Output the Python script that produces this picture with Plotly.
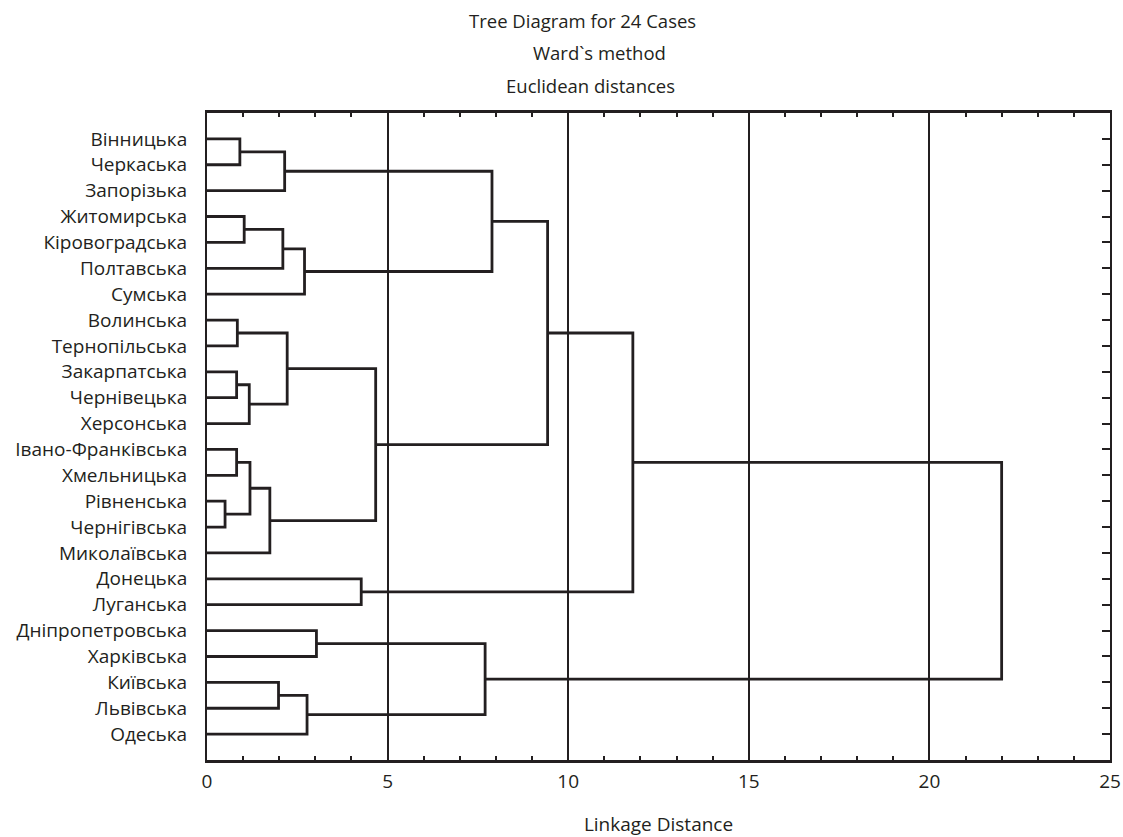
import plotly.graph_objects as go

# Leaf labels in dendrogram order (top to bottom)
leaf_labels = [
    "Вінницька", "Черкаська", "Запорізька", "Житомирська", "Кіровоградська",
    "Полтавська", "Сумська", "Волинська", "Тернопільська", "Закарпатська",
    "Чернівецька", "Херсонська", "Івано-Франківська", "Хмельницька",
    "Рівненська", "Чернігівська", "Миколаївська", "Донецька", "Луганська",
    "Дніпропетровська", "Харківська", "Київська", "Львівська", "Одеська",
]

# Merges: ids 0..23 are leaves, new cluster ids start at 24 in order listed
merge_left = [14, 9, 12, 7, 0, 3, 25, 26, 31, 21, 29, 28, 27, 34, 33, 19, 17, 36, 39, 35, 43, 44, 45]
merge_right = [15, 10, 13, 8, 1, 4, 11, 24, 16, 22, 5, 2, 30, 6, 23, 20, 18, 32, 38, 37, 41, 40, 42]
merge_height = [0.50, 0.82, 0.82, 0.84, 0.91, 1.03, 1.17, 1.19, 1.74, 1.98, 2.10, 2.15,
                2.22, 2.70, 2.77, 3.03, 4.27, 4.67, 7.70, 7.89, 9.43, 11.79, 22.0]

x_ticks = [0, 5, 10, 15, 20, 25]

n = len(leaf_labels)
pos = {i: i + 1 for i in range(n)}
hgt = {i: 0.0 for i in range(n)}

xs, ys = [], []
for k, h in enumerate(merge_height):
    a, b = merge_left[k], merge_right[k]
    cid = n + k
    xs += [hgt[a], h, h, hgt[b], None]
    ys += [pos[a], pos[a], pos[b], pos[b], None]
    pos[cid] = (pos[a] + pos[b]) / 2
    hgt[cid] = h

line_color = "#231f20"
font_family = "Open Sans, Noto Sans, sans-serif"

fig = go.Figure()
fig.add_trace(go.Scatter(x=xs, y=ys, mode="lines",
                         line=dict(color=line_color, width=2.8),
                         hoverinfo="skip", showlegend=False))

W, H = 1123, 837
L, R, T, B = 206.5, 12.5, 113.4, 77
pw, ph = W - L - R, H - T - B

def px(xp):
    return (xp - L) / pw

def py(yp):
    return (H - B - yp) / ph

fig.update_layout(
    width=W, height=H, autosize=False,
    margin=dict(l=L, r=R, t=T, b=B, pad=0),
    paper_bgcolor="white", plot_bgcolor="white",
    font=dict(family=font_family, size=18, color="#231f20"),
    showlegend=False,
    xaxis=dict(
        range=[0, 25], tickvals=x_ticks, ticktext=[str(v) for v in x_ticks],
        showgrid=True, gridcolor=line_color, gridwidth=2,
        showline=True, linecolor=line_color, linewidth=2.5, mirror="ticks",
        ticks="inside", ticklen=5, tickwidth=1.5, tickcolor=line_color,
        minor=dict(dtick=1, ticks="inside", ticklen=4, tickwidth=1.5, tickcolor=line_color, showgrid=False),
        zeroline=False, tickfont=dict(size=19), ticklabelstandoff=2,
        automargin=False,
        title=dict(text="Linkage Distance", font=dict(size=19), standoff=30),
    ),
    yaxis=dict(
        range=[25, 0], tickvals=list(range(1, n + 1)), ticktext=leaf_labels,
        showgrid=False, showline=True, linecolor=line_color, linewidth=2,
        mirror="ticks", ticks="inside", ticklen=8, tickwidth=2, tickcolor=line_color,
        zeroline=False, tickfont=dict(size=19), ticklabelstandoff=14,
        automargin=False,
    ),
    annotations=[
        dict(text="Tree Diagram for 24 Cases", x=px(582.5), y=py(21), xref="paper", yref="paper",
             showarrow=False, xanchor="center", yanchor="middle", font=dict(size=18.5)),
        dict(text="Ward`s method", x=px(599), y=py(53), xref="paper", yref="paper",
             showarrow=False, xanchor="center", yanchor="middle", font=dict(size=18.5)),
        dict(text="Euclidean distances", x=px(590.5), y=py(86), xref="paper", yref="paper",
             showarrow=False, xanchor="center", yanchor="middle", font=dict(size=18.5)),
    ],
)

fig.write_html(
    "out.html",
    config={"displayModeBar": False},
    post_script="document.body.style.margin='0';document.body.style.overflow='hidden';",
)
